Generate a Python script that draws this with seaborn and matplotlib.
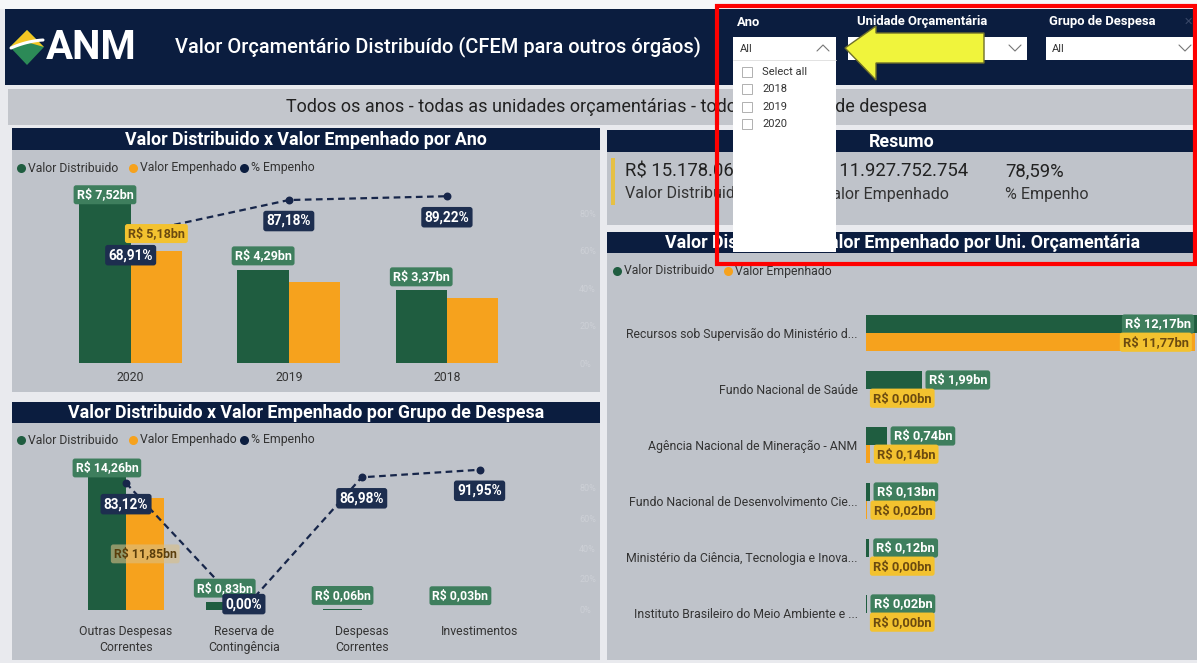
import numpy as np
import pandas as pd
import matplotlib
matplotlib.use("Agg")
import matplotlib.pyplot as plt
import seaborn as sns
from matplotlib.patches import Rectangle, Polygon

# ---------------- data ----------------
anos = ["2020", "2019", "2018"]
ano_distribuido = [7.52, 4.29, 3.37]
ano_empenhado = [5.18, 3.74, 3.01]
ano_pct = [68.91, 87.18, 89.22]
ano_rotulo_emp = [True, False, False]

grupos = ["Outras Despesas\nCorrentes", "Reserva de\nContingência", "Despesas\nCorrentes", "Investimentos"]
grupo_distribuido = [14.26, 0.83, 0.06, 0.03]
grupo_empenhado = [11.85, 0.00, 0.05, 0.03]
grupo_pct = [83.12, 0.00, 86.98, 91.95]
grupo_rotulo_emp = [True, False, False, False]

unidades = ["Recursos sob Supervisão do Ministério d...", "Fundo Nacional de Saúde",
            "Agência Nacional de Mineração - ANM", "Fundo Nacional de Desenvolvimento Cie...",
            "Ministério da Ciência, Tecnologia e Inova...", "Instituto Brasileiro do Meio Ambiente e ..."]
unid_distribuido = [12.17, 1.99, 0.74, 0.13, 0.12, 0.02]
unid_empenhado = [11.77, 0.00, 0.14, 0.02, 0.00, 0.00]

resumo_valores = ["R$ 15.178.064.325", "R$ 11.927.752.754", "78,59%"]
resumo_rotulos = ["Valor Distribuido", "Valor Empenhado", "% Empenho"]
filtro_anos = ["Select all", "2018", "2019", "2020"]
series = ["Valor Distribuido", "Valor Empenhado"]

# ---------------- style ----------------
sns.set_theme(style="white")
plt.rcParams["font.family"] = ["Roboto", "DejaVu Sans"]

W, H = 1197, 663
NAVY = "#0b1d3f"
PANEL = "#bfc3ca"
GREEN = "#1f5d40"
ORANGE = "#f6a21d"
LGREEN = "#3e7e5d"
YEL = "#f3c22f"
PNAVY = "#1d2e4f"
LINE = "#17264a"
TXT = "#333333"

fig = plt.figure(figsize=(W / 100, H / 100), dpi=100)
fig.patch.set_facecolor("#e9eaee")


def axes_px(x0, y0, x1, y1):
    return fig.add_axes([x0 / W, 1 - y1 / H, (x1 - x0) / W, (y1 - y0) / H])


bg = axes_px(0, 0, W, H)
bg.set_xlim(0, W); bg.set_ylim(H, 0); bg.axis("off")


def rect(a, x0, y0, x1, y1, c, **kw):
    a.add_patch(Rectangle((x0, y0), x1 - x0, y1 - y0, fc=c, ec="none", **kw))


rect(bg, 0, 0, W, 9, "#f6f7f9")
rect(bg, 5, 9, W, 85, NAVY)
rect(bg, 8, 89, W, 125, "#c3c6cc")
bg.text(607, 107, "Todos os anos - todas as unidades orçamentárias - todos os grupos de despesa",
        ha="center", va="center", fontsize=13, color="#222222")

panels = [
    (12, 128, 600, 392, 150, 306, "Valor Distribuido x Valor Empenhado por Ano"),
    (12, 402, 600, 660, 423, 306, "Valor Distribuido x Valor Empenhado por Grupo de Despesa"),
    (607, 130, W, 225, 152, 902, "Resumo"),
    (607, 232, W, 660, 253, 903, "Valor Distribuido x Valor Empenhado por Uni. Orçamentária"),
]
for x0, y0, x1, y1, yt, xc, t in panels:
    rect(bg, x0, y0, x1, y1, PANEL)
    rect(bg, x0, y0, x1, yt, NAVY)
    bg.text(xc, (y0 + yt) / 2 + 1, t, ha="center", va="center",
            fontsize=12.8, color="white", fontweight="bold")


def legend(y, items):
    for x, c, lab in items:
        bg.plot(x, y, "o", ms=6.5, color=c, mec="none")
        bg.text(x + 7, y, lab, va="center", ha="left", fontsize=8.8, color=TXT)


legend(168, [(21, GREEN, "Valor Distribuido"), (133, ORANGE, "Valor Empenhado"), (244, NAVY, "% Empenho")])
legend(440, [(21, GREEN, "Valor Distribuido"), (133, ORANGE, "Valor Empenhado"), (244, NAVY, "% Empenho")])
legend(271, [(617, GREEN, "Valor Distribuido"), (728, ORANGE, "Valor Empenhado")])

# resumo
rect(bg, 611, 158, 615, 205, "#e6c044")
for xv, xl, v, lab in zip([625, 813, 1005], [625, 822, 1005], resumo_valores, resumo_rotulos):
    bg.text(xv, 171, v, ha="left", va="center", fontsize=13.3, color="#222222")
    bg.text(xl, 194, lab, ha="left", va="center", fontsize=11.5, color="#333333")

# header
bg.add_patch(Polygon([(10, 47), (27, 30), (44, 47), (27, 65)], closed=True, fc="#2c8a57", ec="none"))
bg.add_patch(Polygon([(10, 47), (27, 30), (44, 47), (30, 43), (18, 45)], closed=True, fc="#f3c623", ec="none"))
tt = np.linspace(0, 1, 30)
bg.plot(11 + 32 * tt, 48 - 8 * tt - 6 * tt * (1 - tt), color="white", lw=2.2, solid_capstyle="round")
bg.text(46, 48, "ANM", ha="left", va="center", fontsize=29, color="white", fontweight="bold")
bg.text(175, 47, "Valor Orçamentário Distribuído (CFEM para outros órgãos)", ha="left", va="center",
        fontsize=14.4, color="white", fontweight="medium")
for x, t in [(737, "Ano"), (857, "Unidade Orçamentária"), (1049, "Grupo de Despesa")]:
    bg.text(x, 22, t, ha="left", va="center", fontsize=9.4, color="white", fontweight="bold")
bg.text(1188, 22, "✕", ha="center", va="center", fontsize=8, color="#3a4868", family="DejaVu Sans")
rect(bg, 848, 37, 1027, 60, "white")
rect(bg, 1046, 37, W, 60, "white")
bg.text(1052, 49, "All", ha="left", va="center", fontsize=8, color=TXT)
bg.plot([1009, 1015, 1021], [45, 51, 45], color="#777777", lw=0.8)
bg.plot([1179, 1185, 1191], [45, 51, 45], color="#777777", lw=0.8)


def boxlabel(axT, axD, x, y, txt, fc, tc, dx=0, dy=0, size=9, ha="center", alpha=1.0):
    axT.annotate(txt, xy=(x, y), xycoords=axD.transData, xytext=(dx * 0.72, dy * 0.72),
                 textcoords="offset points", ha=ha, va="center", fontsize=size, color=tc,
                 fontweight="bold", zorder=8, annotation_clip=False,
                 bbox=dict(boxstyle="round,pad=0.24,rounding_size=0.2", fc=fc, ec="none", alpha=alpha))


def brl(v):
    return ("R$ %.2fbn" % v).replace(".", ",")


def pct(v):
    return ("%.2f%%" % v).replace(".", ",")


def clean(a):
    a.patch.set_visible(False)
    for s in a.spines.values():
        s.set_visible(False)
    a.set_xlabel(""); a.set_ylabel("")


# ---------------- chart 1: por ano ----------------
df1 = pd.DataFrame({"cat": anos * 2, "valor": ano_distribuido + ano_empenhado,
                    "serie": [series[0]] * 3 + [series[1]] * 3})
ax1 = axes_px(20, 180, 575, 363)
sns.barplot(data=df1, x="cat", y="valor", hue="serie", order=anos, hue_order=series,
            palette=[GREEN, ORANGE], width=0.65, saturation=1, errorbar=None, legend=False,
            linewidth=0, ax=ax1)
ax1b = ax1.twinx()
sns.pointplot(x=anos, y=ano_pct, order=anos, color=LINE, linestyles="--", markers="o",
              markersize=4.5, linewidth=1.6, errorbar=None, ax=ax1b)
ax1.set_xlim(-0.70, 2.81); ax1.set_ylim(0, 8.43); ax1b.set_ylim(0, 97.9)
for a in (ax1, ax1b):
    clean(a)
ax1.set_yticks([])
ax1.tick_params(axis="x", length=0, labelsize=8.8, labelcolor=TXT, pad=6)
ax1b.set_yticks([0, 20, 40, 60, 80])
ax1b.set_yticklabels(["0%", "20%", "40%", "60%", "80%"])
ax1b.tick_params(axis="y", length=0, labelsize=6.5, labelcolor="#cdd0d6", pad=3)
for l in ax1b.lines:
    l.set_dashes([3, 2])
off1 = [5, 14, 13]
for i, (d, e, p) in enumerate(zip(ano_distribuido, ano_empenhado, ano_pct)):
    boxlabel(ax1b, ax1, i - 0.1625, d, brl(d), LGREEN, "white", dy=off1[i])
    if ano_rotulo_emp[i]:
        boxlabel(ax1b, ax1, i + 0.1625, e, brl(e), YEL, "#6b4a10", dy=17)
    boxlabel(ax1b, ax1b, i, p, pct(p), PNAVY, "white", dy=-21, size=9.8)

# ---------------- chart 2: por grupo ----------------
df2 = pd.DataFrame({"cat": grupos * 2, "valor": grupo_distribuido + grupo_empenhado,
                    "serie": [series[0]] * 4 + [series[1]] * 4})
ax2 = axes_px(20, 460, 575, 610)
sns.barplot(data=df2, x="cat", y="valor", hue="serie", order=grupos, hue_order=series,
            palette=[GREEN, ORANGE], width=0.65, saturation=1, errorbar=None, legend=False,
            linewidth=0, ax=ax2)
ax2b = ax2.twinx()
sns.pointplot(x=grupos, y=grupo_pct, order=grupos, color=LINE, linestyles="--", markers="o",
              markersize=4.5, linewidth=1.6, errorbar=None, ax=ax2b)
ax2.set_xlim(-0.90, 3.81); ax2.set_ylim(0, 15.84); ax2b.set_ylim(-0.6, 98.4)
for a in (ax2, ax2b):
    clean(a)
ax2.set_yticks([])
ax2.tick_params(axis="x", length=0, labelsize=8.8, labelcolor=TXT, pad=11)
for t in ax2.get_xticklabels():
    t.set_linespacing(1.3)
ax2b.set_yticks([0, 20, 40, 60, 80])
ax2b.set_yticklabels(["0%", "20%", "40%", "60%", "80%"])
ax2b.tick_params(axis="y", length=0, labelsize=6.5, labelcolor="#cdd0d6", pad=3)
for l in ax2b.lines:
    l.set_dashes([3, 2])
off2 = [7, 14, 14, 14]
for i, (d, e, p) in enumerate(zip(grupo_distribuido, grupo_empenhado, grupo_pct)):
    boxlabel(ax2b, ax2, i - 0.1625, d, brl(d), LGREEN, "white", dy=off2[i], size=8.8)
    if grupo_rotulo_emp[i]:
        boxlabel(ax2b, ax2, i + 0.1625, e / 2, brl(e), "#d9bf86", "#5a3e0c", alpha=0.6, size=8.8)
    boxlabel(ax2b, ax2b, i, p, pct(p), PNAVY, "white", dy=(5 if p < 10 else -21), size=9.8)

# ---------------- chart 3: por unidade ----------------
df3 = pd.DataFrame({"cat": unidades * 2, "valor": unid_distribuido + unid_empenhado,
                    "serie": [series[0]] * 6 + [series[1]] * 6})
ax3 = axes_px(866, 290, W, 650)
sns.barplot(data=df3, y="cat", x="valor", hue="serie", order=unidades, hue_order=series,
            palette=[GREEN, ORANGE], width=0.65, saturation=1, errorbar=None, legend=False,
            linewidth=0, orient="h", ax=ax3)
XMAX3 = 11.85
ax3.set_xlim(0, XMAX3); ax3.set_ylim(5.66, -0.77)
clean(ax3)
ax3.set_xticks([])
ax3.tick_params(axis="y", length=0, labelsize=8.8, labelcolor=TXT, pad=6)
for i, (d, e) in enumerate(zip(unid_distribuido, unid_empenhado)):
    for v, yy, fc, tc in [(d, i - 0.1625, LGREEN, "white"), (e, i + 0.1625, YEL, "#6b4a10")]:
        if v > 0.5 * XMAX3:
            boxlabel(ax3, ax3, min(v, XMAX3), yy, brl(v), fc, tc, dx=-6, ha="right", size=9.3)
        else:
            boxlabel(ax3, ax3, v, yy, brl(v), fc, tc, dx=7, ha="left", size=9.3)

# ---------------- overlay: dropdown, arrow, highlight ----------------
ov = axes_px(0, 0, W, H)
ov.set_xlim(0, W); ov.set_ylim(H, 0); ov.axis("off")
ov.set_zorder(20)
rect(ov, 733, 37, 836, 252, "white")
ov.plot([733, 836], [60, 60], color="#dddddd", lw=0.6)
ov.text(740, 49, "All", ha="left", va="center", fontsize=8, color=TXT)
ov.plot([817, 823, 829], [51, 45, 51], color="#777777", lw=0.8)
for k, t in enumerate(filtro_anos):
    yy = 72 + k * 17.3
    ov.add_patch(Rectangle((742, yy - 5), 10, 10, fc="white", ec="#b0b0b0", lw=0.7))
    ov.text(762, yy, t, ha="left", va="center", fontsize=8, color=TXT)
ov.add_patch(Polygon([(845, 48), (876, 26), (876, 33), (984, 33), (984, 63), (876, 63), (876, 80)],
                     closed=True, fc="#f0f43c", ec="#6f6f2a", lw=1.0))
ov.add_patch(Rectangle((717, 6), 478, 258, fc="none", ec="#ff0000", lw=3))

fig.savefig("out.png", dpi=100)
